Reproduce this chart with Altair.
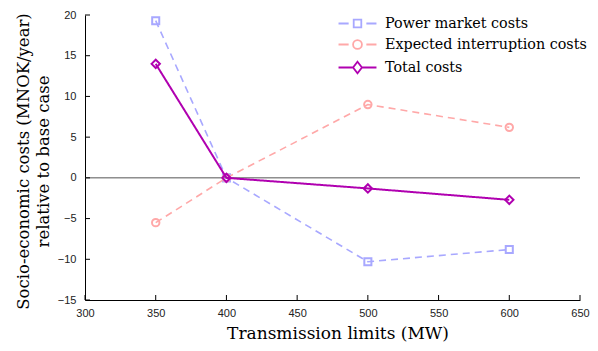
import altair as alt
import pandas as pd

limits = [350, 400, 500, 600]
series_names = ["Power market costs", "Expected interruption costs", "Total costs"]
power_market = [19.3, 0.0, -10.3, -8.8]
interruption = [-5.5, 0.0, 9.0, 6.2]
total = [14.0, 0.0, -1.3, -2.7]
colors = ["#a8a8ff", "#ffa8a8", "#b000b0"]
dashes = [[7, 5], [7, 5], [1, 0]]
markers = ["square", "circle", "diamond"]
x_ticks = [300, 350, 400, 450, 500, 550, 600, 650]
y_ticks = [-15, -10, -5, 0, 5, 10, 15, 20]

values = [power_market, interruption, total]
rows = []
for name, vals in zip(series_names, values):
    for x, v in zip(limits, vals):
        rows.append({"limit": x, "cost": v, "series": name})
df = pd.DataFrame(rows)

W, H = 495, 285
xs = alt.Scale(domain=[300, 650], nice=False)
ys = alt.Scale(domain=[-15, 20], nice=False)

xax = alt.Axis(values=x_ticks, title="Transmission limits (MW)", tickSize=0,
               labelPadding=7, grid=False, labelFlush=False, titlePadding=7,
               titleX=W / 2 + 5)
yax = alt.Axis(values=y_ticks, title=["Socio-economic costs (MNOK/year)", "relative to base case"],
               tickSize=0, labelPadding=9, grid=False, titlePadding=6,
               titleFontSize=16.5, titleLineHeight=20, titleY=146)

base = alt.Chart(df)
layers = []

# zero line
layers.append(alt.Chart(pd.DataFrame({"y": [0]})).mark_rule(color="#555555", strokeWidth=1).encode(
    y=alt.Y("y:Q", scale=ys, axis=yax), x=alt.value(0), x2=alt.value(W)))

for name, col, dash, mk in zip(series_names, colors, dashes, markers):
    sub = base.transform_filter(alt.datum.series == name)
    sw = 2 if name == "Total costs" else 1.6
    layers.append(sub.mark_line(color=col, strokeDash=dash, strokeWidth=sw).encode(
        x=alt.X("limit:Q", scale=xs, axis=xax),
        y=alt.Y("cost:Q", scale=ys, axis=yax)))
    size = 70 if mk == "diamond" else (55 if mk == "circle" else 50)
    layers.append(sub.mark_point(shape=mk, filled=False, color=col, size=size, strokeWidth=2, opacity=1).encode(
        x=alt.X("limit:Q", scale=xs, axis=xax),
        y=alt.Y("cost:Q", scale=ys, axis=yax)))

# inward ticks
layers.append(alt.Chart(pd.DataFrame({"t": x_ticks})).mark_rule(color="black", strokeWidth=1).encode(
    x=alt.X("t:Q", scale=xs, axis=xax), y=alt.value(H), y2=alt.value(H - 5)))
layers.append(alt.Chart(pd.DataFrame({"t": y_ticks})).mark_rule(color="black", strokeWidth=1).encode(
    y=alt.Y("t:Q", scale=ys, axis=yax), x=alt.value(0), x2=alt.value(5)))

# legend layer (no visible data, legend only); paths span [-3,3] so the symbol box stays small
leg_paths = [
    "M-3,0H-1.4M1.4,0H3M-0.6,-0.6H0.6V0.6H-0.6Z",
    "M-3,0H-1.4M1.4,0H3M0.7,0A0.7,0.7,0,1,1,-0.7,0A0.7,0.7,0,1,1,0.7,0Z",
    "M-3,0H-0.7M0.7,0H3M0,-0.9L0.7,0L0,0.9L-0.7,0Z",
]
leg = alt.Legend(title=None, orient="none", legendX=265, legendY=1,
                 symbolSize=160, symbolStrokeWidth=1.8,
                 labelFont="DejaVu Serif", labelFontSize=14.3, labelLimit=400,
                 labelColor="black", rowPadding=5, labelOffset=20)
legend_layer = base.transform_filter(alt.datum.cost > 1000).mark_point(filled=False, opacity=1).encode(
    x=alt.X("limit:Q", scale=xs, axis=xax),
    y=alt.Y("cost:Q", scale=ys, axis=yax),
    color=alt.Color("series:N", scale=alt.Scale(domain=series_names, range=colors), legend=leg),
    shape=alt.Shape("series:N", scale=alt.Scale(domain=series_names, range=leg_paths), legend=leg),
)
layers.append(legend_layer)

chart = alt.layer(*layers).properties(
    width=W, height=H,
    autosize=alt.AutoSizeParams(type="none"),
    padding={"left": 77, "top": 7, "right": 10, "bottom": 43},
).configure_view(stroke=None).configure_axis(
    domainColor="black", domainWidth=1,
    labelFont="Liberation Sans", labelFontSize=11, labelColor="#222222",
    titleFont="DejaVu Serif", titleFontSize=17, titleFontWeight="normal", titleColor="black",
)

chart.save("out.html", embed_options={"renderer": "svg", "actions": False})
